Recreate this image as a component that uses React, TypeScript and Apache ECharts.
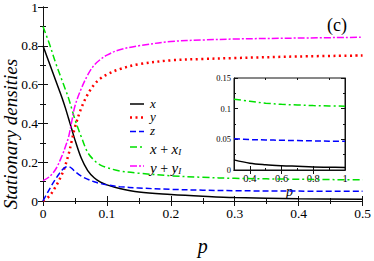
import React, { useEffect, useRef } from "react";
import * as echarts from "echarts";

const FONT = "Liberation Serif";

// Main panel data (p from 0 to 0.5)
const pMain = [0, 0.01, 0.02, 0.03, 0.035, 0.04, 0.045, 0.05, 0.06, 0.07, 0.08, 0.09, 0.1, 0.12, 0.15, 0.2, 0.25, 0.3, 0.4, 0.5];
const xMain = [0.8, 0.71, 0.62, 0.53, 0.48, 0.425, 0.37, 0.315, 0.22, 0.157, 0.12, 0.097, 0.083, 0.064, 0.046, 0.034, 0.025, 0.018, 0.012, 0.009];
const yMain = [0.0, 0.025, 0.075, 0.14, 0.185, 0.24, 0.31, 0.38, 0.48, 0.55, 0.6, 0.632, 0.652, 0.68, 0.705, 0.725, 0.732, 0.737, 0.745, 0.75];
const zMain = [0.0, 0.06, 0.115, 0.16, 0.174, 0.177, 0.168, 0.152, 0.128, 0.112, 0.099, 0.09, 0.083, 0.074, 0.067, 0.06, 0.056, 0.053, 0.051, 0.05];
const xxiMain = [0.9, 0.81, 0.71, 0.62, 0.575, 0.53, 0.475, 0.42, 0.33, 0.25, 0.21, 0.185, 0.172, 0.155, 0.143, 0.13, 0.122, 0.117, 0.112, 0.109];
const yyiMain = [0.105, 0.125, 0.165, 0.235, 0.28, 0.33, 0.41, 0.49, 0.58, 0.65, 0.7, 0.73, 0.752, 0.78, 0.8, 0.822, 0.83, 0.835, 0.84, 0.844];

// Inset data (p from 0.3 to 1)
const pInset = [0.3, 0.4, 0.5, 0.6, 0.7, 0.8, 0.9, 1.0];
const xInset = [0.0165, 0.011, 0.0085, 0.007, 0.006, 0.005, 0.0045, 0.004];
const zInset = [0.051, 0.0495, 0.049, 0.0485, 0.048, 0.0475, 0.047, 0.047];
const xxiInset = [0.1155, 0.112, 0.109, 0.107, 0.106, 0.105, 0.1045, 0.104];

// Tick labels
const insetXLabels = [0.4, 0.6, 0.8, 1];
const insetXMinor = [0.5, 0.7, 0.9];

const yTitle = "Stationary densities";
const legendLabels = ["{i|x}", "{i|y}", "{i|z}", "{i|x} {n|+} {i|x}{s|I}", "{i|y} {n|+} {i|y}{s|I}"];

const zip = (a: number[], b: number[]) => a.map((v, i) => [v, b[i]]);

const STYLE = {
  x: { color: "#000000", dash: null as number[] | null, width: 1.5 },
  y: { color: "#ff0000", dash: [2, 3.5], width: 2.5 },
  z: { color: "#0000ff", dash: [6, 3], width: 1.5 },
  xxi: { color: "#00e000", dash: [7, 3, 2, 3], width: 1.5 },
  yyi: { color: "#ff00ff", dash: [7, 2, 2, 2], width: 1.5 },
};

export default function App() {
  const ref = useRef<HTMLDivElement>(null);
  useEffect(() => {
    if (!ref.current) return;
    const chart = echarts.init(ref.current, null, { renderer: "svg" });
    const axisLine = { show: true, lineStyle: { color: "#111", width: 1 } };
    const mainGrid = { left: 43, top: 7, width: 320, height: 223, show: false };
    const insetGrid = { left: 234, top: 78, width: 111, height: 92, show: true, backgroundColor: "#fff", borderColor: "#111", borderWidth: 1 };

    const lbl = { color: "#000", fontFamily: FONT, fontSize: 13.5 };
    const smallLbl = { color: "#000", fontFamily: FONT };

    const mainX = (pos: string, showLabel: boolean) => ({
      type: "value",
      gridIndex: 0,
      position: pos,
      min: 0,
      max: 0.5,
      interval: 0.1,
      axisLine,
      axisTick: { show: true, inside: true, length: 5, lineStyle: { color: "#111" } },
      minorTick: { show: true, splitNumber: 2, length: 3, lineStyle: { color: "#111" } },
      splitLine: { show: false },
      axisLabel: showLabel ? { ...lbl, margin: 5 } : { show: false },
      name: showLabel ? "p" : "",
      nameLocation: "middle",
      nameGap: 35,
      nameTextStyle: { fontFamily: FONT, fontStyle: "italic", fontSize: 20, color: "#000" },
    });
    const mainY = (pos: string, showLabel: boolean) => ({
      type: "value",
      gridIndex: 0,
      position: pos,
      min: 0,
      max: 1,
      interval: 0.2,
      axisLine,
      axisTick: { show: true, inside: true, length: 5, lineStyle: { color: "#111" } },
      minorTick: { show: true, splitNumber: 2, length: 3, lineStyle: { color: "#111" } },
      splitLine: { show: false },
      axisLabel: showLabel ? { ...lbl, margin: 5 } : { show: false },
    });
    const insetX = (pos: string, showLabel: boolean, minor: boolean) => ({
      type: "value",
      gridIndex: 1,
      position: pos,
      min: 0.3,
      max: 1,
      interval: 0.1,
      axisLine: minor ? { show: false } : axisLine,
      axisTick: {
        show: true,
        inside: true,
        length: minor ? 2 : 4,
        customValues: minor ? insetXMinor : insetXLabels.slice(0, 3),
        lineStyle: { color: "#111" },
      },
      splitLine: { show: false },
      axisLabel: showLabel ? { ...smallLbl, fontSize: 10.5, margin: 3, customValues: insetXLabels } : { show: false },
      name: showLabel ? "p" : "",
      nameLocation: "middle",
      nameGap: 11,
      nameTextStyle: { fontFamily: FONT, fontStyle: "italic", fontSize: 14, color: "#000" },
    });
    const insetY = (pos: string, showLabel: boolean) => ({
      type: "value",
      gridIndex: 1,
      position: pos,
      min: 0,
      max: 0.15,
      interval: 0.05,
      axisLine,
      axisTick: { show: true, inside: true, length: 4, lineStyle: { color: "#111" } },
      minorTick: { show: true, splitNumber: 2, length: 2, lineStyle: { color: "#111" } },
      splitLine: { show: false },
      axisLabel: showLabel ? { ...smallLbl, fontSize: 8.5, margin: 3 } : { show: false },
    });

    const lineSeries = (name: string, data: number[][], st: any, xi: number, yi: number) => ({
      type: "line",
      name,
      data,
      xAxisIndex: xi,
      yAxisIndex: yi,
      symbol: "none",
      smooth: 0.35,
      clip: true,
      lineStyle: { color: st.color, type: st.dash ? st.dash : "solid", width: st.width },
      itemStyle: { color: st.color },
      emphasis: { disabled: true },
      silent: true,
    });

    const legendRowCenters = [104, 117.5, 131.5, 147, 166];
    const legendStyles = [STYLE.x, STYLE.y, STYLE.z, STYLE.xxi, STYLE.yyi];
    const legendGraphics: any[] = [];
    legendStyles.forEach((st, i) => {
      const cy = legendRowCenters[i];
      const hasSub = i >= 3;
      const lh = hasSub ? 15 : 11;
      const fs = hasSub ? 15 : 13;
      legendGraphics.push({
        type: "line",
        shape: { x1: 130, y1: cy, x2: 144, y2: cy },
        style: { stroke: st.color, lineWidth: st.width, lineDash: st.dash || null },
        silent: true,
      });
      legendGraphics.push({
        type: "text",
        x: 150,
        y: hasSub ? cy + 2 : cy - 1,
        silent: true,
        style: {
          text: legendLabels[i],
          verticalAlign: "middle",
          fontFamily: FONT,
          fontSize: 14,
          fill: "#000",
          rich: {
            i: { fontFamily: FONT, fontStyle: "italic", fontSize: fs, lineHeight: lh, fill: "#000", verticalAlign: "middle" },
            n: { fontFamily: FONT, fontSize: 14, lineHeight: lh, fill: "#000", verticalAlign: "middle" },
            s: { fontFamily: FONT, fontStyle: "italic", fontSize: 9, lineHeight: lh, fill: "#000", verticalAlign: "bottom" },
          },
        },
      });
    });

    const option: any = {
      animation: false,
      backgroundColor: "#fff",
      grid: [mainGrid, insetGrid],
      xAxis: [
        mainX("bottom", true),
        mainX("top", false),
        insetX("bottom", true, false),
        insetX("top", false, false),
        insetX("bottom", false, true),
        insetX("top", false, true),
      ],
      yAxis: [mainY("left", true), mainY("right", false), insetY("left", true), insetY("right", false)],
      graphic: [
        {
          type: "text",
          left: 327,
          top: 16,
          style: { text: "(c)", fontFamily: FONT, fontSize: 18, fill: "#000" },
        },
        {
          type: "text",
          x: 10,
          y: 134,
          rotation: Math.PI / 2,
          silent: true,
          style: { text: yTitle, fontFamily: FONT, fontStyle: "italic", fontSize: 19, fill: "#000", align: "center", verticalAlign: "middle" },
        },
        ...legendGraphics,
      ],
      series: [
        lineSeries("x", zip(pMain, xMain), STYLE.x, 0, 0),
        lineSeries("y", zip(pMain, yMain), STYLE.y, 0, 0),
        lineSeries("z", zip(pMain, zMain), STYLE.z, 0, 0),
        lineSeries("x + x_I", zip(pMain, xxiMain), STYLE.xxi, 0, 0),
        lineSeries("y + y_I", zip(pMain, yyiMain), STYLE.yyi, 0, 0),
        lineSeries("inset-x", zip(pInset, xInset), STYLE.x, 2, 2),
        lineSeries("inset-z", zip(pInset, zInset), STYLE.z, 2, 2),
        lineSeries("inset-xxi", zip(pInset, xxiInset), STYLE.xxi, 2, 2),
      ],
    };
    chart.setOption(option);
    return () => chart.dispose();
  }, []);
  return <div ref={ref} style={{ position: "fixed", left: 0, top: 0, width: 374, height: 261 }} />;
}
